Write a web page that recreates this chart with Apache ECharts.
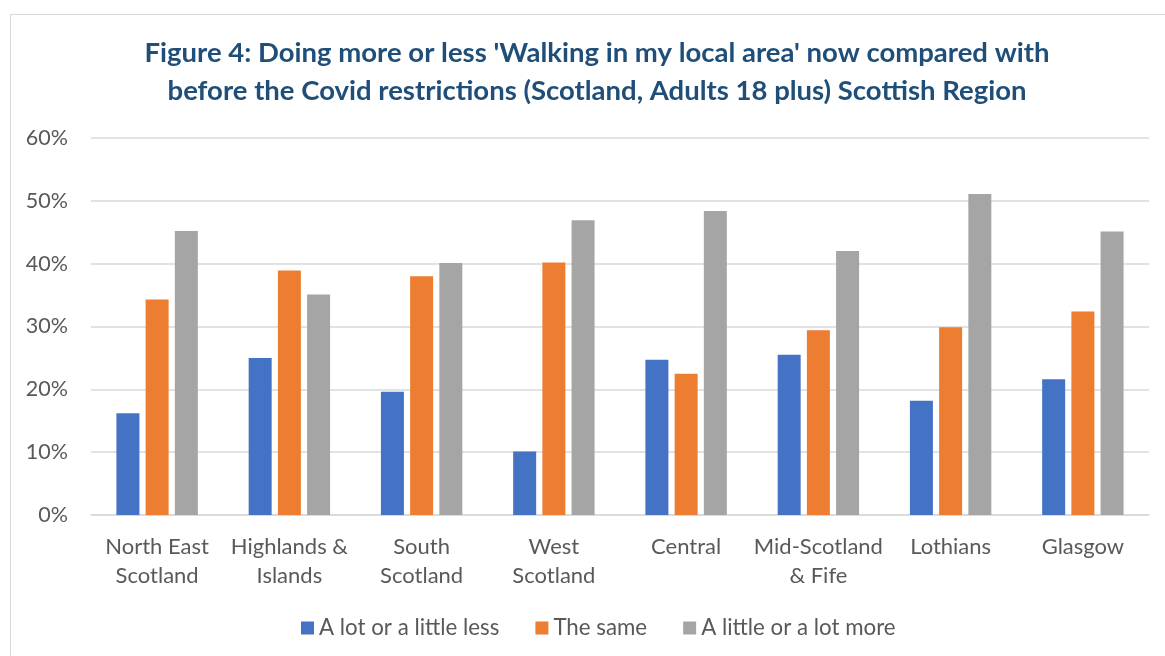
<!DOCTYPE html>
<html>
<head>
<meta charset="utf-8">
<script src="https://cdn.jsdelivr.net/npm/echarts@6/dist/echarts.min.js"></script>
<style>
  html, body { margin: 0; padding: 0; background: #fff; }
  #frame { position: absolute; left: 10px; top: 14px; width: 1165px; height: 660px; border: 1px solid #d9d9d9; box-sizing: border-box; }
  #chart { position: absolute; left: 0; top: 0; width: 1165px; height: 656px; }
</style>
</head>
<body>
<div id="frame"></div>
<div id="chart"></div>
<script>
// Scottish regions and the share of adults in each response group
const regions = ['North East\nScotland', 'Highlands &\nIslands', 'South\nScotland', 'West\nScotland', 'Central', 'Mid-Scotland\n& Fife', 'Lothians', 'Glasgow'];
const lessValues = [16.2, 25.0, 19.6, 10.1, 24.7, 25.5, 18.2, 21.6];
const sameValues = [34.3, 38.9, 38.0, 40.2, 22.5, 29.4, 29.9, 32.4];
const moreValues = [45.2, 35.1, 40.1, 46.9, 48.4, 42.0, 51.1, 45.1];
const seriesNames = ['A lot or a little less', 'The same', 'A little or a lot more'];
const titleLines = ["Figure 4: Doing more or less 'Walking in my local area' now compared with", "before the Covid restrictions (Scotland, Adults 18 plus) Scottish Region"];

const font = 'Lato, "Open Sans", sans-serif';
const chart = echarts.init(document.getElementById('chart'), null, { renderer: 'canvas' });

function barSeries(name, data, color) {
  return {
    name: name,
    type: 'bar',
    data: data,
    barWidth: 23,
    barGap: '27%',
    itemStyle: { color: color },
    emphasis: { disabled: true }
  };
}

chart.setOption({
  animation: false,
  color: ['#4472C4', '#ED7D31', '#A5A5A5'],
  title: {
    text: titleLines.join('\n'),
    left: 592,
    top: 29,
    textAlign: 'center',
    textStyle: { fontFamily: font, fontSize: 27.5, fontWeight: 'bold', color: '#1F4E79', lineHeight: 38 }
  },
  legend: {
    bottom: 12,
    left: 296,
    itemWidth: 13,
    itemHeight: 13,
    itemGap: 36,
    itemStyle: { borderWidth: 0 },
    icon: 'rect',
    textStyle: { fontFamily: font, fontSize: 22.3, color: '#595959' },
    data: seriesNames
  },
  grid: { left: 91, right: 16, top: 138, bottom: 141 },
  xAxis: {
    type: 'category',
    data: regions,
    axisLine: { lineStyle: { color: '#d9d9d9', width: 1.5 } },
    axisTick: { show: false },
    axisLabel: { fontFamily: font, fontSize: 22, color: '#595959', lineHeight: 29, margin: 17, interval: 0 }
  },
  yAxis: {
    type: 'value',
    min: 0,
    max: 60,
    interval: 10,
    axisLine: { show: false },
    axisTick: { show: false },
    splitLine: { lineStyle: { color: '#d9d9d9', width: 1.5 } },
    axisLabel: { fontFamily: font, fontSize: 21.5, color: '#595959', margin: 23, formatter: '{value}%' }
  },
  series: [
    barSeries(seriesNames[0], lessValues, '#4472C4'),
    barSeries(seriesNames[1], sameValues, '#ED7D31'),
    barSeries(seriesNames[2], moreValues, '#A5A5A5')
  ]
});
</script>
</body>
</html>
